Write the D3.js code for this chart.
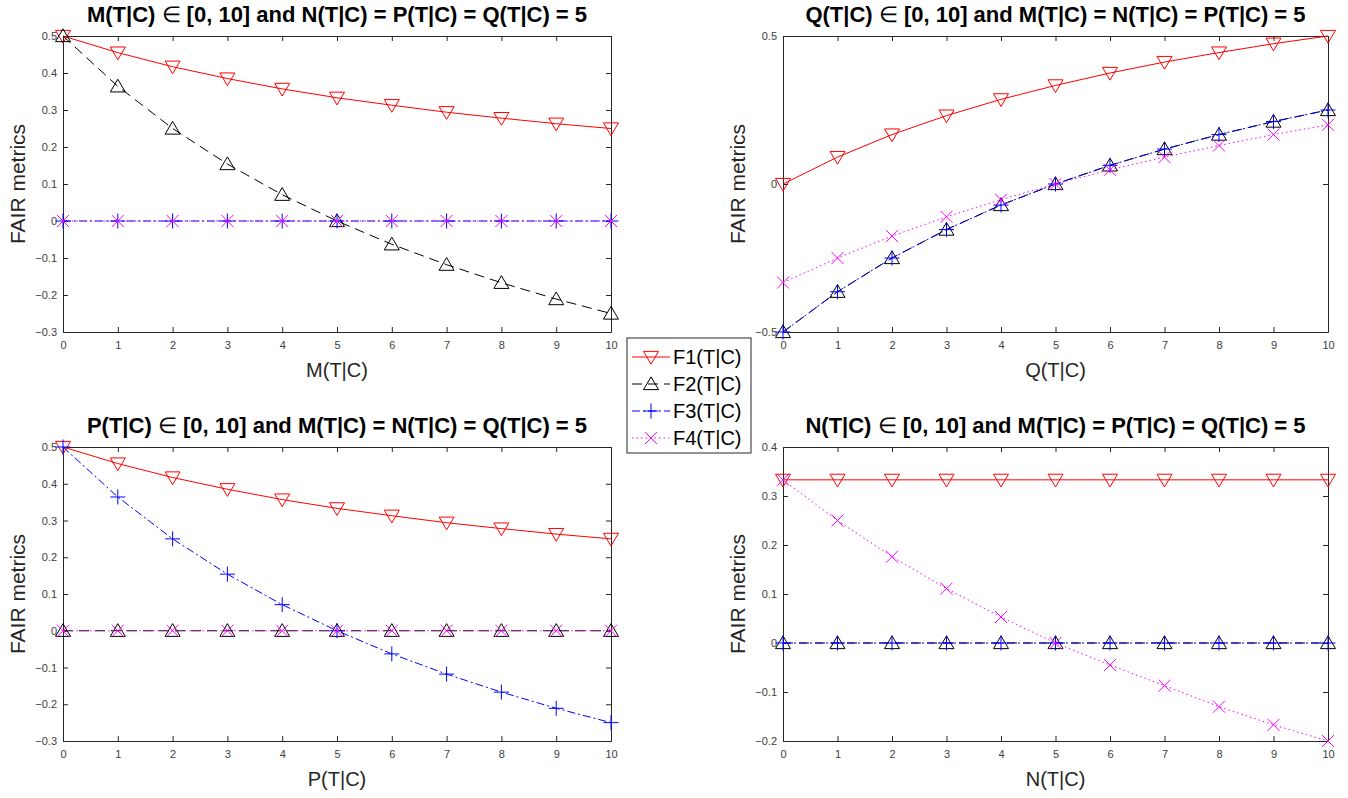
<!DOCTYPE html>
<html>
<head>
<meta charset="utf-8">
<script src="https://cdn.jsdelivr.net/npm/d3@7"></script>
<style>
  body { margin: 0; background: #fff; }
  svg { display: block; font-family: "Liberation Sans", Arial, sans-serif; }
</style>
</head>
<body>
<svg id="chart" width="1348" height="798"></svg>
<script>
// x positions shared by every panel
const xValues = [0, 1, 2, 3, 4, 5, 6, 7, 8, 9, 10];
const xTicks = [0, 1, 2, 3, 4, 5, 6, 7, 8, 9, 10];
const seriesNames = ['F1(T|C)', 'F2(T|C)', 'F3(T|C)', 'F4(T|C)'];

// panel: M(T|C) varies
const mF1 = [0.5, 0.455, 0.417, 0.385, 0.357, 0.333, 0.313, 0.294, 0.278, 0.263, 0.25];
const mF2 = [0.5, 0.364, 0.25, 0.154, 0.071, 0, -0.063, -0.118, -0.167, -0.211, -0.25];
const mF3 = [0, 0, 0, 0, 0, 0, 0, 0, 0, 0, 0];
const mF4 = [0, 0, 0, 0, 0, 0, 0, 0, 0, 0, 0];

// panel: Q(T|C) varies
const qF1 = [0, 0.091, 0.167, 0.231, 0.286, 0.333, 0.375, 0.412, 0.444, 0.474, 0.5];
const qF2 = [-0.5, -0.364, -0.25, -0.154, -0.071, 0, 0.063, 0.118, 0.167, 0.211, 0.25];
const qF3 = [-0.5, -0.364, -0.25, -0.154, -0.071, 0, 0.063, 0.118, 0.167, 0.211, 0.25];
const qF4 = [-0.333, -0.25, -0.176, -0.111, -0.053, 0, 0.048, 0.091, 0.13, 0.167, 0.2];

// panel: P(T|C) varies
const pF1 = [0.5, 0.455, 0.417, 0.385, 0.357, 0.333, 0.313, 0.294, 0.278, 0.263, 0.25];
const pF2 = [0, 0, 0, 0, 0, 0, 0, 0, 0, 0, 0];
const pF3 = [0.5, 0.364, 0.25, 0.154, 0.071, 0, -0.063, -0.118, -0.167, -0.211, -0.25];
const pF4 = [0, 0, 0, 0, 0, 0, 0, 0, 0, 0, 0];

// panel: N(T|C) varies
const nF1 = [0.333, 0.333, 0.333, 0.333, 0.333, 0.333, 0.333, 0.333, 0.333, 0.333, 0.333];
const nF2 = [0, 0, 0, 0, 0, 0, 0, 0, 0, 0, 0];
const nF3 = [0, 0, 0, 0, 0, 0, 0, 0, 0, 0, 0];
const nF4 = [0.333, 0.25, 0.176, 0.111, 0.053, 0, -0.045, -0.087, -0.13, -0.167, -0.2];

const yTicksM = [-0.3, -0.2, -0.1, 0, 0.1, 0.2, 0.3, 0.4, 0.5];
const yTicksQ = [-0.5, 0, 0.5];
const yTicksP = [-0.3, -0.2, -0.1, 0, 0.1, 0.2, 0.3, 0.4, 0.5];
const yTicksN = [-0.2, -0.1, 0, 0.1, 0.2, 0.3, 0.4];

const axisColor = '#262626';
const styles = [
    { color: '#ff0000', dash: null, marker: 'down' },
    { color: '#000000', dash: '10,6', marker: 'up' },
    { color: '#0000ff', dash: '8,3,2,3', marker: 'plus' },
    { color: '#ff00ff', dash: '1.5,3', marker: 'cross' },
];

const svg = d3.select('#chart');

function markerPath(kind) {
    const r = 7.5;
    if (kind === 'down') return `M${-r},${-r * 0.75}L${r},${-r * 0.75}L0,${r * 0.95}Z`;
    if (kind === 'up') return `M${-r},${r * 0.75}L${r},${r * 0.75}L0,${-r * 0.95}Z`;
    if (kind === 'plus') return `M${-r},0L${r},0M0,${-r}L0,${r}`;
    return `M${-6},${-6}L6,6M6,${-6}L${-6},6`;
}

function drawPanel(p) {
    const x = d3.scaleLinear().domain([0, 10]).range([p.left, p.right]);
    const y = d3.scaleLinear().domain(p.yDomain).range([p.bottom, p.top]);
    const g = svg.append('g');

    g.append('rect')
        .attr('x', p.left).attr('y', p.top)
        .attr('width', p.right - p.left).attr('height', p.bottom - p.top)
        .attr('fill', '#fff');

    // ticks on all four sides, pointing inward
    const axB = g.append('g').attr('transform', `translate(0,${p.bottom})`)
        .call(d3.axisBottom(x).tickValues(xTicks).tickSizeInner(-5).tickSizeOuter(0).tickPadding(9));
    const axT = g.append('g').attr('transform', `translate(0,${p.top})`)
        .call(d3.axisTop(x).tickValues(xTicks).tickSizeInner(-5).tickSizeOuter(0).tickFormat(''));
    const axL = g.append('g').attr('transform', `translate(${p.left},0)`)
        .call(d3.axisLeft(y).tickValues(p.yTicks).tickSizeInner(-5).tickSizeOuter(0).tickPadding(6)
            .tickFormat(d => d3.format('')(+d.toFixed(1))));
    const axR = g.append('g').attr('transform', `translate(${p.right},0)`)
        .call(d3.axisRight(y).tickValues(p.yTicks).tickSizeInner(-5).tickSizeOuter(0).tickFormat(''));

    [axB, axT, axL, axR].forEach(a => {
        a.select('.domain').attr('stroke', axisColor).attr('stroke-width', 1);
        a.selectAll('.tick line').attr('stroke', axisColor);
        a.selectAll('.tick text').attr('fill', '#404040').attr('font-size', 11)
            .attr('font-family', '"Liberation Sans", Arial, sans-serif');
    });

    const line = d3.line().x((d, i) => x(xValues[i])).y(d => y(d));

    p.series.forEach((values, k) => {
        const s = styles[k];
        g.append('path')
            .datum(values)
            .attr('d', line)
            .attr('fill', 'none')
            .attr('stroke', s.color)
            .attr('stroke-width', 1)
            .attr('stroke-dasharray', s.dash);
        g.selectAll(null)
            .data(values)
            .enter()
            .append('path')
            .attr('d', markerPath(s.marker))
            .attr('transform', (d, i) => `translate(${x(xValues[i])},${y(d)})`)
            .attr('fill', 'none')
            .attr('stroke', s.color)
            .attr('stroke-width', 1);
    });

    // title with the non-bold ∈ sign
    const t = g.append('text')
        .attr('x', (p.left + p.right) / 2).attr('y', p.top - 14)
        .attr('text-anchor', 'middle')
        .attr('font-size', 22).attr('font-weight', 'bold').attr('fill', '#000');
    t.append('tspan').text(p.titleA + ' ');
    t.append('tspan').attr('font-weight', 'normal').text('\u2208');
    t.append('tspan').text(' ' + p.titleB);

    g.append('text')
        .attr('x', (p.left + p.right) / 2).attr('y', p.bottom + 45)
        .attr('text-anchor', 'middle').attr('font-size', 20).attr('fill', axisColor)
        .text(p.xLabel);

    g.append('text')
        .attr('transform', `translate(${p.left - 38},${(p.top + p.bottom) / 2}) rotate(-90)`)
        .attr('text-anchor', 'middle').attr('font-size', 21).attr('fill', axisColor)
        .text('FAIR metrics');
}

drawPanel({ left: 63, right: 611, top: 36, bottom: 332, yDomain: [-0.3, 0.5], yTicks: yTicksM,
    series: [mF1, mF2, mF3, mF4], xLabel: 'M(T|C)',
    titleA: 'M(T|C)', titleB: '[0, 10] and N(T|C) = P(T|C) = Q(T|C) = 5' });
drawPanel({ left: 783, right: 1328, top: 36, bottom: 332, yDomain: [-0.5, 0.5], yTicks: yTicksQ,
    series: [qF1, qF2, qF3, qF4], xLabel: 'Q(T|C)',
    titleA: 'Q(T|C)', titleB: '[0, 10] and M(T|C) = N(T|C) = P(T|C) = 5' });
drawPanel({ left: 63, right: 611, top: 447, bottom: 741, yDomain: [-0.3, 0.5], yTicks: yTicksP,
    series: [pF1, pF2, pF3, pF4], xLabel: 'P(T|C)',
    titleA: 'P(T|C)', titleB: '[0, 10] and M(T|C) = N(T|C) = Q(T|C) = 5' });
drawPanel({ left: 783, right: 1328, top: 447, bottom: 741, yDomain: [-0.2, 0.4], yTicks: yTicksN,
    series: [nF1, nF2, nF3, nF4], xLabel: 'N(T|C)',
    titleA: 'N(T|C)', titleB: '[0, 10] and M(T|C) = P(T|C) = Q(T|C) = 5' });

// legend
const legend = svg.append('g').attr('transform', 'translate(627,338)');
legend.append('rect')
    .attr('width', 124).attr('height', 115)
    .attr('fill', '#fff').attr('stroke', axisColor).attr('stroke-width', 1);
const rowY = d3.scalePoint().domain(seriesNames).range([19, 100]);
seriesNames.forEach((name, k) => {
    const s = styles[k];
    const row = legend.append('g').attr('transform', `translate(0,${rowY(name)})`);
    row.append('line')
        .attr('x1', 5).attr('x2', 43)
        .attr('stroke', s.color).attr('stroke-width', 1).attr('stroke-dasharray', s.dash);
    row.append('path')
        .attr('d', markerPath(s.marker))
        .attr('transform', 'translate(24,0)')
        .attr('fill', 'none').attr('stroke', s.color).attr('stroke-width', 1);
    row.append('text')
        .attr('x', 46).attr('y', 7)
        .attr('font-size', 20).attr('fill', '#000')
        .text(name);
});
</script>
</body>
</html>
